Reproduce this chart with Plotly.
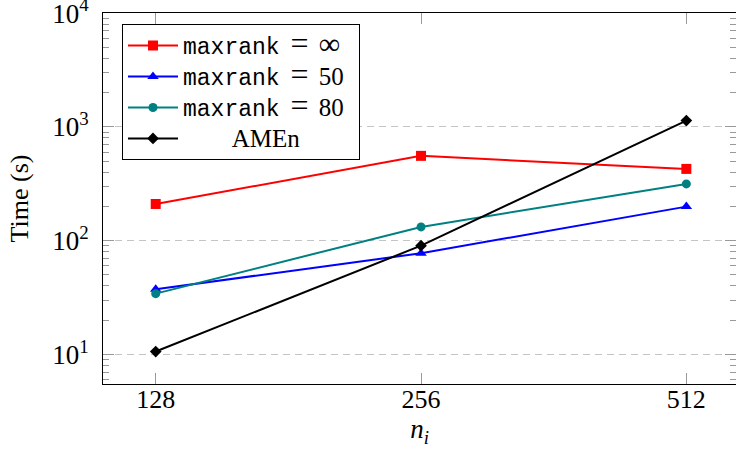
import plotly.graph_objects as go

n_i = [128, 256, 512]
time_inf = [210, 556, 427]
time_50 = [37.4, 77.5, 199]
time_80 = [34.2, 132, 315]
time_amen = [10.6, 90.3, 1136]

y_tickvals = [10, 100, 1000, 10000]
y_ticktext = ["10<sup>1</sup>", "10<sup>2</sup>", "10<sup>3</sup>", "10<sup>4</sup>"]
x_tickvals = [128, 256, 512]
x_ticktext = ["128", "256", "512"]
legend_values = ["∞", "50", "80"]

minor_vals = [m * 10 ** e for e in range(0, 4) for m in range(2, 10)]


def sp(text, size, family="Liberation Serif"):
    return '<span style="font-family:%s;font-size:%spx">%s</span>' % (family, size, text)


def maxrank_label(value):
    vsize = 30 if value == "∞" else 25
    return (sp("maxrank", 23, "Liberation Mono") + sp("\u2002", 22) + sp("=", 32)
            + sp("\u2002", 20) + sp(value, vsize) + sp("\u2002", 20))


series = [
    (maxrank_label(legend_values[0]), time_inf, "#ff0000", "square", 10),
    (maxrank_label(legend_values[1]), time_50, "#0000ff", "triangle-up", 10),
    (maxrank_label(legend_values[2]), time_80, "#008080", "circle", 9),
    (sp("\u00a0" * 7 + "\u2009" + "AMEn", 25), time_amen, "#000000", "diamond", 9),
]

fig = go.Figure()
for name, vals, color, sym, size in series:
    fig.add_trace(go.Scatter(
        x=n_i, y=vals, name=name, mode="lines+markers",
        line=dict(color=color, width=2),
        marker=dict(symbol=sym, size=size, color=color),
    ))

font_family = "Liberation Serif, serif"
fig.update_layout(
    width=736, height=449,
    margin=dict(l=103, r=0, t=13, b=65, autoexpand=False),
    paper_bgcolor="white", plot_bgcolor="white",
    font=dict(family=font_family, size=25, color="black"),
    showlegend=True,
    legend=dict(
        x=0.030, y=0.970, xanchor="left", yanchor="top",
        bgcolor="white", bordercolor="black", borderwidth=1,
        font=dict(family=font_family, size=21.5, color="black"),
        tracegroupgap=0, itemwidth=50,
    ),
    xaxis=dict(
        type="log", automargin=False,
        range=[2.0474, 2.7656],
        tickvals=x_tickvals, ticktext=x_ticktext,
        ticks="inside", ticklen=11, tickcolor="#999999", tickwidth=1,
        mirror="ticks", showline=True, linecolor="black", linewidth=1,
        showgrid=False, zeroline=False,
        tickfont=dict(size=26), ticklabelstandoff=-8,
        title=dict(text="<i>n</i><sub><i>i</i></sub>", standoff=2,
                   font=dict(family=font_family, size=27)),
    ),
    yaxis=dict(
        type="log", automargin=False,
        range=[0.740, 4.0005],
        tickvals=y_tickvals, ticktext=y_ticktext,
        ticks="inside", ticklen=11, tickcolor="#999999", tickwidth=1,
        mirror="ticks", showline=True, linecolor="black", linewidth=1,
        showgrid=True, gridcolor="#c4c4c4", griddash="7px,5px", gridwidth=1,
        zeroline=False,
        tickfont=dict(size=27), ticklabelstandoff=8, ticklabeloverflow="allow",
        minor=dict(tickvals=minor_vals, ticks="inside", ticklen=6,
                   tickcolor="#999999", showgrid=False),
        title=dict(text="Time (s)", standoff=16,
                   font=dict(family=font_family, size=26)),
    ),
)

fig.write_html(
    "out.html",
    config={"displayModeBar": False},
    post_script="document.body.style.margin='0';document.body.style.overflow='hidden';",
)
